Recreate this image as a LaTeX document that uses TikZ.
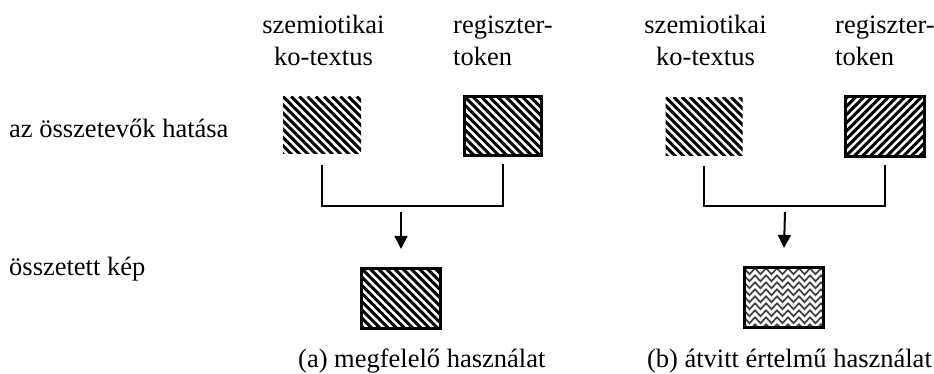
\documentclass[tikz,border=0pt]{standalone}
\usepackage{fontspec}
\setmainfont{Liberation Serif}
\usetikzlibrary{arrows.meta,decorations.pathmorphing}

\begin{document}
\begin{tikzpicture}[
    x=1pt, y=-1pt,
    font=\fontsize{26.5}{32}\selectfont,
    lbl/.style={inner sep=0pt},
    back/.style={inner sep=0pt, path picture={
        \foreach \k in {-9,...,10}
          \draw[line width=3pt] ([xshift=\k*8.2pt]path picture bounding box.north west) -- ++(80,80);
      }},
    fore/.style={inner sep=0pt, path picture={
        \foreach \k in {-9,...,10}
          \draw[line width=3pt] ([xshift=\k*8.2pt]path picture bounding box.south west) -- ++(80,-80);
      }},
    framed/.style={draw, line width=2.6pt, minimum width=79.5pt, minimum height=60.5pt},
    zig/.style={decorate, decoration={zigzag, segment length=11pt, amplitude=3pt},
      line width=1.7pt, black!75},
    bracket/.style={line width=2pt},
    arrow/.style={line width=2pt, -{Triangle[width=13pt,length=13pt]}}
  ]
  \useasboundingbox (0,0) rectangle (934,373);
  % row labels
  \node[lbl, anchor=base west] (effect) at (9,137) {az összetevők hatása};
  \node[lbl, anchor=base west] (image) at (9,275) {összetett kép};

  % (a) panel
  \node[lbl, align=center, anchor=north] (semA) at (323.5,10.6) {\strut szemiotikai\\ko-textus};
  \node[lbl, align=left, anchor=north west] (regA) at (453,10.6) {\strut regiszter-\\token};
  \node[back, minimum width=78pt, minimum height=57pt] (semboxA) at (322,125) {};
  \node[back, framed, minimum width=77.5pt, minimum height=59.5pt] (regboxA) at (503,126) {};
  \draw[bracket] ([yshift=-11pt]semboxA.south) -- ++(0,41) -| ([yshift=-7pt]regboxA.south);
  \coordinate (joinA) at (401,212);
  \node[back, framed] (resboxA) at (401,298.5) {};
  \draw[arrow] (joinA) -- ([yshift=18pt]resboxA.north);
  \node[lbl, anchor=base west] (capA) at (298,367) {(a) megfelelő használat};

  % (b) panel
  \node[lbl, align=center, anchor=north] (semB) at (705.5,10.6) {\strut szemiotikai\\ko-textus};
  \node[lbl, align=left, anchor=north west] (regB) at (835,10.6) {\strut regiszter-\\token};
  \node[back, minimum width=77pt, minimum height=58pt] (semboxB) at (704,126) {};
  \node[fore, framed] (regboxB) at (885,126.5) {};
  \draw[bracket] ([yshift=-11pt]semboxB.south) -- ++(0,40) -| ([yshift=-7pt]regboxB.south);
  \coordinate (joinB) at (785,212);
  \node[framed, path picture={
      \foreach \r in {0,...,8}
        \draw[zig] ([xshift=-3pt, yshift=-4pt-\r*7pt]path picture bounding box.north west)
          -- ([xshift=3pt, yshift=-4pt-\r*7pt]path picture bounding box.north east);
    }] (resboxB) at (784,297.5) {};
  \draw[arrow] (joinB) -- ([yshift=18pt]resboxB.north);
  \node[lbl, anchor=base east] (capB) at (932,367) {(b) átvitt értelmű használat};
\end{tikzpicture}
\end{document}
